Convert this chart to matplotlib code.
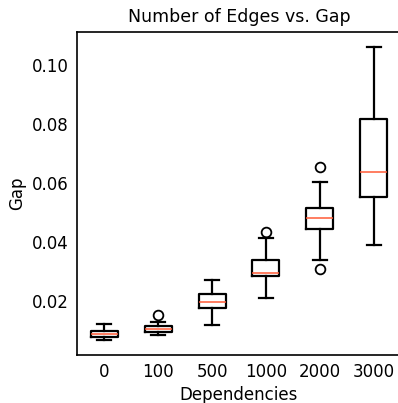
import matplotlib.pyplot as plt

# gap distribution per dependency count
labels = ["0", "100", "500", "1000", "2000", "3000"]
whislo = [0.0067, 0.0085, 0.0118, 0.0208, 0.0338, 0.0389]
q1 = [0.0076, 0.0094, 0.0174, 0.0283, 0.0443, 0.0553]
med = [0.0087, 0.0103, 0.0196, 0.0295, 0.0479, 0.0636]
q3 = [0.0098, 0.0115, 0.0222, 0.0338, 0.0515, 0.0815]
whishi = [0.0120, 0.0128, 0.0270, 0.0414, 0.0602, 0.1061]
fliers = [[], [0.0152], [], [0.0432], [0.0652, 0.0307], []]

stats = []
for i in range(len(labels)):
    stats.append(dict(label=labels[i], whislo=whislo[i], q1=q1[i], med=med[i],
                      q3=q3[i], whishi=whishi[i], fliers=fliers[i]))

fig = plt.figure(figsize=(3.98, 4.03), dpi=100)
ax = fig.add_axes([0.1935, 0.1203, 0.814, 0.8003])

lw = 1.6
ax.bxp(stats,
       boxprops=dict(color="black", linewidth=lw),
       whiskerprops=dict(color="black", linewidth=lw),
       capprops=dict(color="black", linewidth=lw),
       medianprops=dict(color="#ff5a36", linewidth=1.1),
       flierprops=dict(marker="o", markerfacecolor="none", markeredgecolor="black",
                       markersize=7, markeredgewidth=1.3))

ax.set_title("Number of Edges vs. Gap", fontsize=12.5, pad=7)
ax.set_xlabel("Dependencies", fontsize=12)
ax.set_ylabel("Gap", fontsize=12)
ax.set_yticks([0.02, 0.04, 0.06, 0.08, 0.10])
ax.tick_params(length=0, labelsize=12, pad=6)
for s in ax.spines.values():
    s.set_linewidth(1.2)

fig.savefig("out.png", dpi=100)
